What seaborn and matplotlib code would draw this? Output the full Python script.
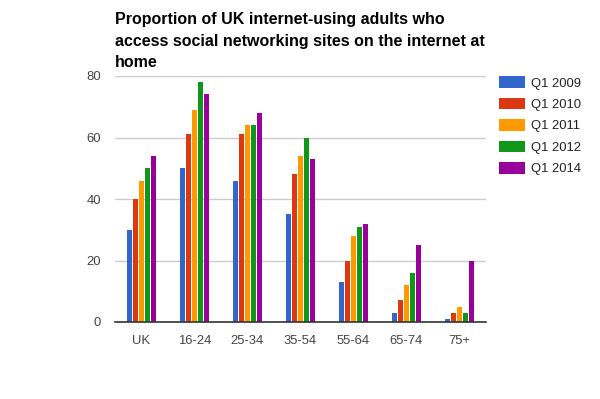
import pandas as pd
import seaborn as sns
import matplotlib.pyplot as plt

# data
age_groups = ['UK', '16-24', '25-34', '35-54', '55-64', '65-74', '75+']
periods = ['Q1 2009', 'Q1 2010', 'Q1 2011', 'Q1 2012', 'Q1 2014']
q1_2009 = [30, 50, 46, 35, 13, 3, 1]
q1_2010 = [40, 61, 61, 48, 20, 7, 3]
q1_2011 = [46, 69, 64, 54, 28, 12, 5]
q1_2012 = [50, 78, 64, 60, 31, 16, 3]
q1_2014 = [54, 74, 68, 53, 32, 25, 20]
colors = ['#3366cc', '#dc3912', '#ff9900', '#109618', '#990099']

series = [q1_2009, q1_2010, q1_2011, q1_2012, q1_2014]
rows = []
for period, vals in zip(periods, series):
    for grp, v in zip(age_groups, vals):
        rows.append({'group': grp, 'period': period, 'value': v})
df = pd.DataFrame(rows)

sns.set_theme(style='white')
plt.rcParams['font.family'] = ['Liberation Sans', 'DejaVu Sans']

fig = plt.figure(figsize=(6, 3.99), dpi=100)
ax = fig.add_axes([115 / 600, 1 - 322 / 399, 371 / 600, 246 / 399])

sns.barplot(data=df, x='group', y='value', hue='period', order=age_groups,
            hue_order=periods, palette=colors, width=0.566, gap=0.17,
            saturation=1, linewidth=0, ax=ax, legend=True)

ax.set_ylim(0, 80)
ax.set_yticks([0, 20, 40, 60, 80])
ax.set_xlim(-0.5, len(age_groups) - 0.5)
ax.yaxis.grid(True, color='#cccccc', linewidth=1)
ax.set_axisbelow(True)
for s in ['top', 'right', 'left']:
    ax.spines[s].set_visible(False)
ax.spines['bottom'].set_color('#333333')
ax.spines['bottom'].set_linewidth(1.2)
ax.tick_params(axis='both', length=0, labelsize=9.4, colors='#444444')
ax.tick_params(axis='y', pad=10)
ax.tick_params(axis='x', pad=9)
ax.set_xlabel('')
ax.set_ylabel('')

ax.legend(loc='upper left', bbox_to_anchor=(379 / 371, 1.02), frameon=False,
          fontsize=9.4, handlelength=2.0, handleheight=1.0,
          handletextpad=0.45, labelspacing=0.62, borderaxespad=0,
          labelcolor='#222222')

fig.text(115 / 600, 1 - 12 / 399,
         'Proportion of UK internet-using adults who\n'
         'access social networking sites on the internet at\nhome',
         ha='left', va='top', fontsize=11.5, fontweight='bold',
         linespacing=1.55, color='#000000')

fig.savefig('out.png', dpi=100)
